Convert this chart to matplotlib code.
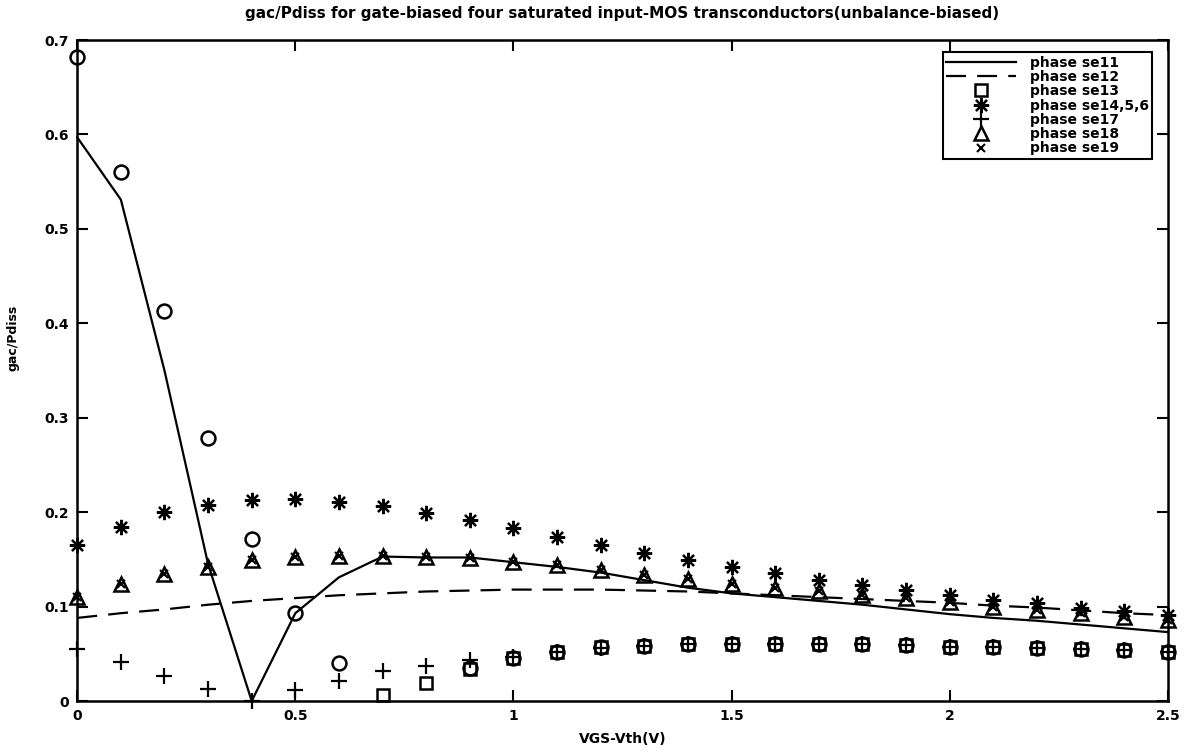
import numpy as np
import matplotlib.pyplot as plt

plt.rcParams['font.family'] = ['DejaVu Sans']
plt.rcParams['font.weight'] = 'bold'

vgs = [0.0, 0.1, 0.2, 0.3, 0.4, 0.5, 0.6, 0.7, 0.8, 0.9, 1.0, 1.1, 1.2,
       1.3, 1.4, 1.5, 1.6, 1.7, 1.8, 1.9, 2.0, 2.1, 2.2, 2.3, 2.4, 2.5]

se11 = [0.597, 0.531, 0.350, 0.145, 0.000, 0.093, 0.131, 0.153, 0.152,
        0.152, 0.147, 0.142, 0.136, 0.128, 0.120, 0.114, 0.110, 0.106,
        0.102, 0.097, 0.092, 0.088, 0.085, 0.081, 0.077, 0.073]
se12 = [0.088, 0.093, 0.097, 0.102, 0.106, 0.109, 0.112, 0.114, 0.116,
        0.117, 0.118, 0.118, 0.118, 0.117, 0.116, 0.114, 0.112, 0.110,
        0.108, 0.106, 0.104, 0.101, 0.099, 0.096, 0.093, 0.091]

# square markers (se13) start at 0.7
vgs13 = vgs[7:]
se13 = [0.006, 0.019, 0.034, 0.046, 0.052, 0.057, 0.058, 0.060, 0.060,
        0.060, 0.060, 0.060, 0.059, 0.057, 0.057, 0.056, 0.055, 0.054, 0.052]

# round markers that are not in the legend
vgs_o = [0.0, 0.1, 0.2, 0.3, 0.4, 0.5, 0.6, 0.9, 1.0, 1.1, 1.2, 1.3, 1.4,
         1.5, 1.6, 1.7, 1.8, 1.9, 2.0, 2.1, 2.2, 2.3, 2.4, 2.5]
se_o = [0.682, 0.560, 0.413, 0.279, 0.172, 0.093, 0.040, 0.035, 0.046,
        0.052, 0.057, 0.058, 0.060, 0.060, 0.060, 0.060, 0.060, 0.059,
        0.057, 0.057, 0.056, 0.055, 0.054, 0.052]

se14 = [0.165, 0.184, 0.200, 0.208, 0.213, 0.214, 0.211, 0.206, 0.199,
        0.192, 0.183, 0.174, 0.165, 0.157, 0.149, 0.142, 0.136, 0.128,
        0.123, 0.118, 0.112, 0.107, 0.104, 0.098, 0.095, 0.091]
se17 = [0.055, 0.041, 0.027, 0.013, 0.000, 0.012, 0.021, 0.032, 0.037,
        0.043, 0.047, 0.052, 0.056, 0.058, 0.060, 0.060, 0.060, 0.060,
        0.060, 0.059, 0.057, 0.057, 0.056, 0.055, 0.054, 0.052]
se18 = [0.110, 0.124, 0.135, 0.142, 0.149, 0.153, 0.154, 0.154, 0.153,
        0.151, 0.147, 0.144, 0.139, 0.133, 0.129, 0.124, 0.120, 0.116,
        0.112, 0.109, 0.105, 0.100, 0.096, 0.093, 0.089, 0.086]
se19 = se18

fig = plt.figure(figsize=(11.88, 7.55), dpi=100)
ax = fig.add_axes([0.065, 0.0715, 0.918, 0.8755])

k = dict(color='black', clip_on=False)
ax.plot(vgs, se11, '-', lw=1.6, label='phase se11', **k)
ax.plot(vgs, se12, '--', lw=1.6, dashes=(9, 5), label='phase se12', **k)
ax.plot(vgs13, se13, 's', mfc='none', mew=1.8, ms=8, ls='none', label='phase se13', **k)
ax.plot(vgs, se14, marker=(8, 2, 0), mew=1.6, ms=11, ls='none', label='phase se14,5,6', **k)
ax.plot(vgs, se17, '+', mew=1.6, ms=12, ls='none', label='phase se17', **k)
ax.plot(vgs, se18, '^', mfc='none', mew=1.8, ms=10, ls='none', label='phase se18', **k)
ax.plot(vgs, se19, 'x', mew=1.5, ms=6, ls='none', label='phase se19', **k)
ax.plot(vgs_o, se_o, 'o', mfc='none', mew=1.8, ms=10, ls='none', **k)

ax.set_xlim(0, 2.5)
ax.set_ylim(0, 0.7)
ax.set_xticks([0, 0.5, 1, 1.5, 2, 2.5])
ax.set_xticklabels(['0', '0.5', '1', '1.5', '2', '2.5'])
ax.set_yticks([0, 0.1, 0.2, 0.3, 0.4, 0.5, 0.6, 0.7])
ax.set_yticklabels(['0', '0.1', '0.2', '0.3', '0.4', '0.5', '0.6', '0.7'])
ax.tick_params(direction='in', top=True, right=True, length=8, width=1.5,
               labelsize=10, pad=6)
for s in ax.spines.values():
    s.set_linewidth(1.8)

ax.set_title('gac/Pdiss for gate-biased four saturated input-MOS transconductors(unbalance-biased)',
             fontsize=11, fontweight='bold', pad=16)
ax.set_xlabel('VGS-Vth(V)', fontsize=10, fontweight='bold', labelpad=6)
ax.set_ylabel('gac/Pdiss', fontsize=9, fontweight='bold')
ax.yaxis.set_label_coords(-0.053, 0.55)

leg = ax.legend(loc='upper right', bbox_to_anchor=(0.992, 0.992),
                handlelength=5.0, handletextpad=1.0, labelspacing=0.02,
                borderpad=0.25, fancybox=False, framealpha=1, edgecolor='black',
                prop={'weight': 'bold', 'size': 10})
leg.get_frame().set_linewidth(1.5)

fig.savefig('out.png', dpi=100)
